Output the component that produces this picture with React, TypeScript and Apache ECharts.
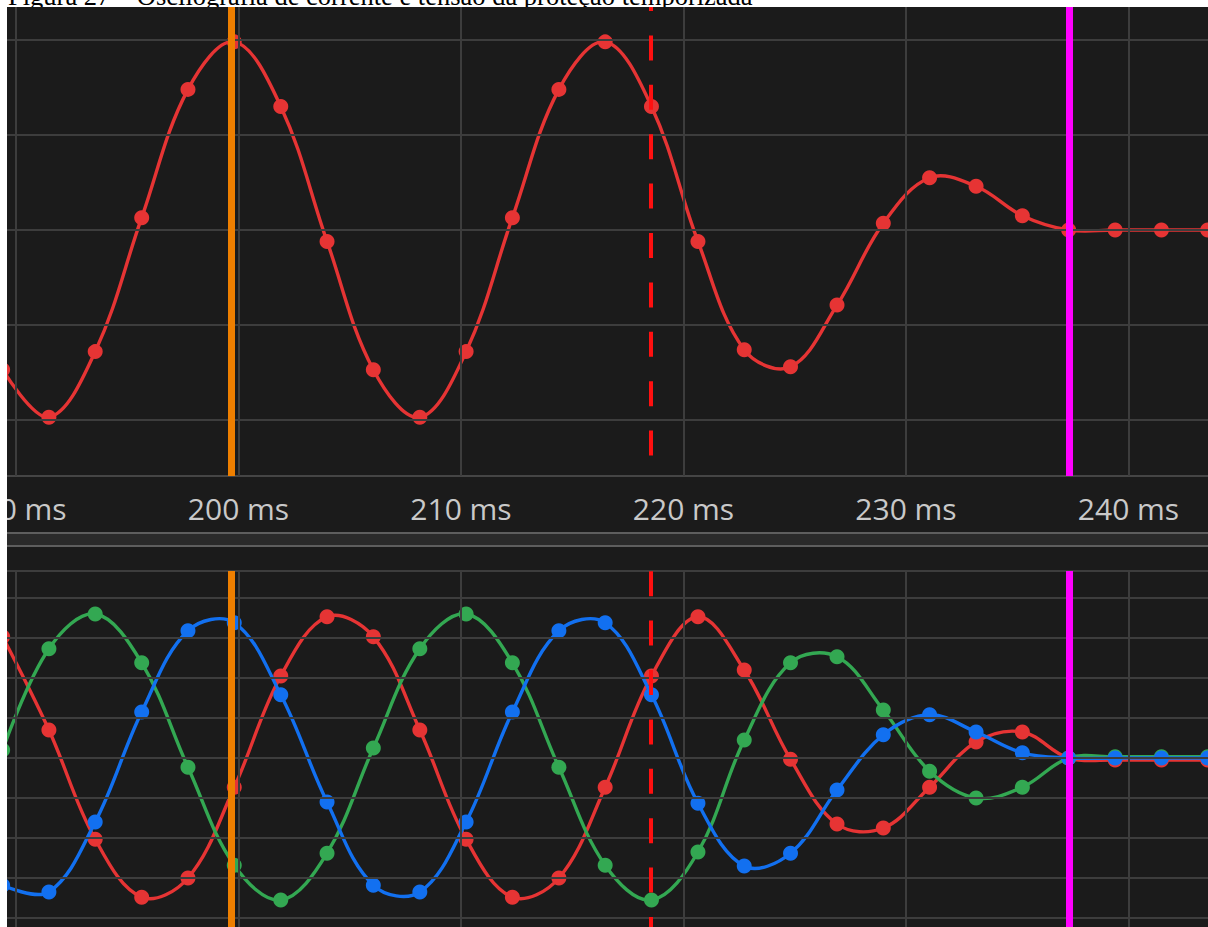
import React, { useEffect, useRef } from "react";
import * as echarts from "echarts";

// Sample instants (ms), 8 samples per 60 Hz cycle
const sampleTimes = [
  189.4, 191.48, 193.56, 195.65, 197.73, 199.81, 201.9, 203.98, 206.06, 208.15,
  210.23, 212.31, 214.4, 216.48, 218.56, 220.65, 222.73, 224.81, 226.9, 228.98,
  231.06, 233.15, 235.23, 237.31, 239.4, 241.48, 243.56, 245.65,
];

// Upper panel trace
const upperTrace = [
  -1.47, -1.97, -1.28, 0.13, 1.48, 1.98, 1.3, -0.12, -1.47, -1.97,
  -1.28, 0.13, 1.48, 1.98, 1.3, -0.12, -1.26, -1.44, -0.79, 0.07,
  0.55, 0.46, 0.15, 0.0, 0.0, 0.0, 0.0, 0.0,
];

// Lower panel, three phases
const phaseRed = [
  3.03, 0.7, -2.03, -3.48, -3.0, -0.73, 2.05, 3.53, 3.03, 0.7,
  -2.03, -3.48, -3.0, -0.73, 2.05, 3.53, 2.2, -0.03, -1.65, -1.75,
  -0.73, 0.4, 0.65, 0.0, -0.05, -0.05, -0.05, -0.05,
];
const phaseGreen = [
  0.2, 2.73, 3.6, 2.38, -0.23, -2.68, -3.55, -2.38, 0.25, 2.73,
  3.6, 2.38, -0.23, -2.68, -3.55, -2.35, 0.45, 2.38, 2.53, 1.2,
  -0.33, -1.0, -0.73, 0.0, 0.03, 0.03, 0.03, 0.03,
];
const phaseBlue = [
  -3.18, -3.35, -1.6, 1.15, 3.18, 3.38, 1.58, -1.1, -3.18, -3.35,
  -1.6, 1.15, 3.18, 3.38, 1.58, -1.13, -2.7, -2.38, -0.8, 0.58,
  1.08, 0.65, 0.13, 0.0, 0.0, 0.0, 0.0, 0.0,
];

const timeTicks = [190, 200, 210, 220, 230, 240];
const upperGridValues = [-2, -1, 0, 1, 2];
const lowerGridValues = [-4, -3, -2, -1, 0, 1, 2, 3, 4];

const cursorOrange = 199.69;
const cursorDashed = 218.53;
const cursorMagenta = 237.33;

const captionText =
  "Figura 27 – Oscilografia de corrente e tensão da proteção temporizada";

const X_MIN = 189.596;
const X_MAX = 243.573;

const RED = "#e63434";
const GREEN = "#33a852";
const BLUE = "#1270f0";
const GRID = "#3d3d3d";

const pairs = (vals: number[]) => sampleTimes.map((t, i) => [t, vals[i]]);

// Smooth curve through the samples (spline drawn by zrender, points placed by the axes)
const curveSeries = (vals: number[], color: string, idx: number, z: number) => {
  const data = pairs(vals);
  return {
    type: "custom",
    coordinateSystem: "cartesian2d",
    xAxisIndex: idx,
    yAxisIndex: idx,
    data,
    z,
    silent: true,
    clip: false,
    renderItem: (params: any, api: any) => {
      if (params.dataIndex !== 0) return null;
      const pts = data.map((p) => api.coord(p));
      return {
        type: "polyline",
        shape: { points: pts, smooth: 0.37 },
        style: { stroke: color, lineWidth: 3.4, fill: "none" },
      };
    },
  };
};

const dotSeries = (vals: number[], color: string, idx: number, z: number) => ({
  type: "scatter",
  xAxisIndex: idx,
  yAxisIndex: idx,
  data: pairs(vals),
  symbol: "circle",
  symbolSize: 15,
  clip: false,
  z,
  silent: true,
  itemStyle: { color, opacity: 1 },
  emphasis: { disabled: true },
});

const gridLineSeries = (idx: number, yVals: number[]) => ({
  type: "line",
  xAxisIndex: idx,
  yAxisIndex: idx,
  data: [],
  z: 1,
  silent: true,
  markLine: {
    silent: true,
    symbol: ["none", "none"],
    label: { show: false },
    emphasis: { disabled: true },
    lineStyle: { color: GRID, width: 2, type: "solid" },
    data: [
      ...timeTicks.map((v) => ({ xAxis: v })),
      ...yVals.map((v) => ({ yAxis: v })),
    ],
  },
});

const cursorSeries = (idx: number, dashOffset: number) => ({
  type: "line",
  xAxisIndex: idx,
  yAxisIndex: idx,
  data: [],
  z: 10,
  silent: true,
  markLine: {
    silent: true,
    symbol: ["none", "none"],
    label: { show: false },
    emphasis: { disabled: true },
    data: [
      {
        xAxis: cursorOrange,
        lineStyle: { color: "#ee7f00", width: 7, type: "solid" },
      },
      {
        xAxis: cursorDashed,
        lineStyle: {
          color: "#ff1010",
          width: 4,
          type: [25, 24.4],
          dashOffset,
        },
      },
      {
        xAxis: cursorMagenta,
        lineStyle: { color: "#ff00ff", width: 7, type: "solid" },
      },
    ],
  },
});

export default function App() {
  const ref = useRef<HTMLDivElement>(null);

  useEffect(() => {
    if (!ref.current) return;
    const chart = echarts.init(ref.current, null, { renderer: "svg" });
    chart.setOption({
      animation: false,
      backgroundColor: "#ffffff",
      grid: [
        {
          left: 7,
          top: 7,
          width: 1201,
          height: 469,
          containLabel: false,
          outerBoundsMode: "none",
        },
        {
          left: 7,
          top: 571,
          width: 1201,
          height: 356,
          containLabel: false,
          outerBoundsMode: "none",
        },
      ],
      xAxis: [
        {
          gridIndex: 0,
          type: "value",
          min: X_MIN,
          max: X_MAX,
          axisLine: {
            show: true,
            onZero: false,
            lineStyle: { color: "#454545", width: 2 },
          },
          axisTick: { show: false },
          splitLine: { show: false },
          axisLabel: {
            customValues: timeTicks,
            formatter: (v: number) => `${Math.round(v)} ms`,
            color: "#c9c9c9",
            fontSize: 30,
            fontFamily: "'Open Sans', 'Noto Sans', sans-serif",
            margin: 17,
            showMinLabel: true,
            showMaxLabel: true,
          },
        },
        {
          gridIndex: 1,
          type: "value",
          min: X_MIN,
          max: X_MAX,
          show: false,
        },
      ],
      yAxis: [
        { gridIndex: 0, type: "value", min: -2.589, max: 2.347, show: false },
        { gridIndex: 1, type: "value", min: -4.225, max: 4.675, show: false },
      ],
      graphic: {
        elements: [
          {
            type: "text",
            x: 8,
            y: -4.5,
            z: -20,
            silent: true,
            style: {
              text: captionText,
              font: "26.5px 'Liberation Serif', 'Times New Roman', serif",
              fill: "#000000",
              align: "left",
              verticalAlign: "middle",
            },
          },
          {
            type: "rect",
            z: -10,
            silent: true,
            shape: { x: 7, y: 7, width: 1201, height: 920 },
            style: { fill: "#1b1b1b" },
          },
          {
            type: "rect",
            z: -5,
            silent: true,
            shape: { x: 7, y: 533, width: 1201, height: 13 },
            style: { fill: "#2a2a2a" },
          },
          {
            type: "line",
            z: -4,
            silent: true,
            shape: { x1: 7, y1: 533, x2: 1208, y2: 533 },
            style: { stroke: "#5e5e5e", lineWidth: 2 },
          },
          {
            type: "line",
            z: -4,
            silent: true,
            shape: { x1: 7, y1: 546, x2: 1208, y2: 546 },
            style: { stroke: "#5e5e5e", lineWidth: 2 },
          },
          {
            type: "line",
            z: -4,
            silent: true,
            shape: { x1: 7, y1: 571, x2: 1208, y2: 571 },
            style: { stroke: GRID, lineWidth: 2 },
          },
          {
            type: "rect",
            z: 100,
            silent: true,
            shape: { x: 0, y: 0, width: 7, height: 927 },
            style: { fill: "#ffffff" },
          },
        ],
      },
      series: [
        gridLineSeries(0, upperGridValues),
        gridLineSeries(1, lowerGridValues),
        curveSeries(upperTrace, RED, 0, 2),
        dotSeries(upperTrace, RED, 0, 2),
        curveSeries(phaseRed, RED, 1, 2),
        dotSeries(phaseRed, RED, 1, 2),
        curveSeries(phaseGreen, GREEN, 1, 3),
        dotSeries(phaseGreen, GREEN, 1, 3),
        curveSeries(phaseBlue, BLUE, 1, 4),
        dotSeries(phaseBlue, BLUE, 1, 4),
        cursorSeries(0, 28.7),
        cursorSeries(1, 15.1),
      ],
    });
    return () => chart.dispose();
  }, []);

  return (
    <div
      ref={ref}
      style={{
        position: "absolute",
        left: 0,
        top: 0,
        width: 1208,
        height: 927,
      }}
    />
  );
}
